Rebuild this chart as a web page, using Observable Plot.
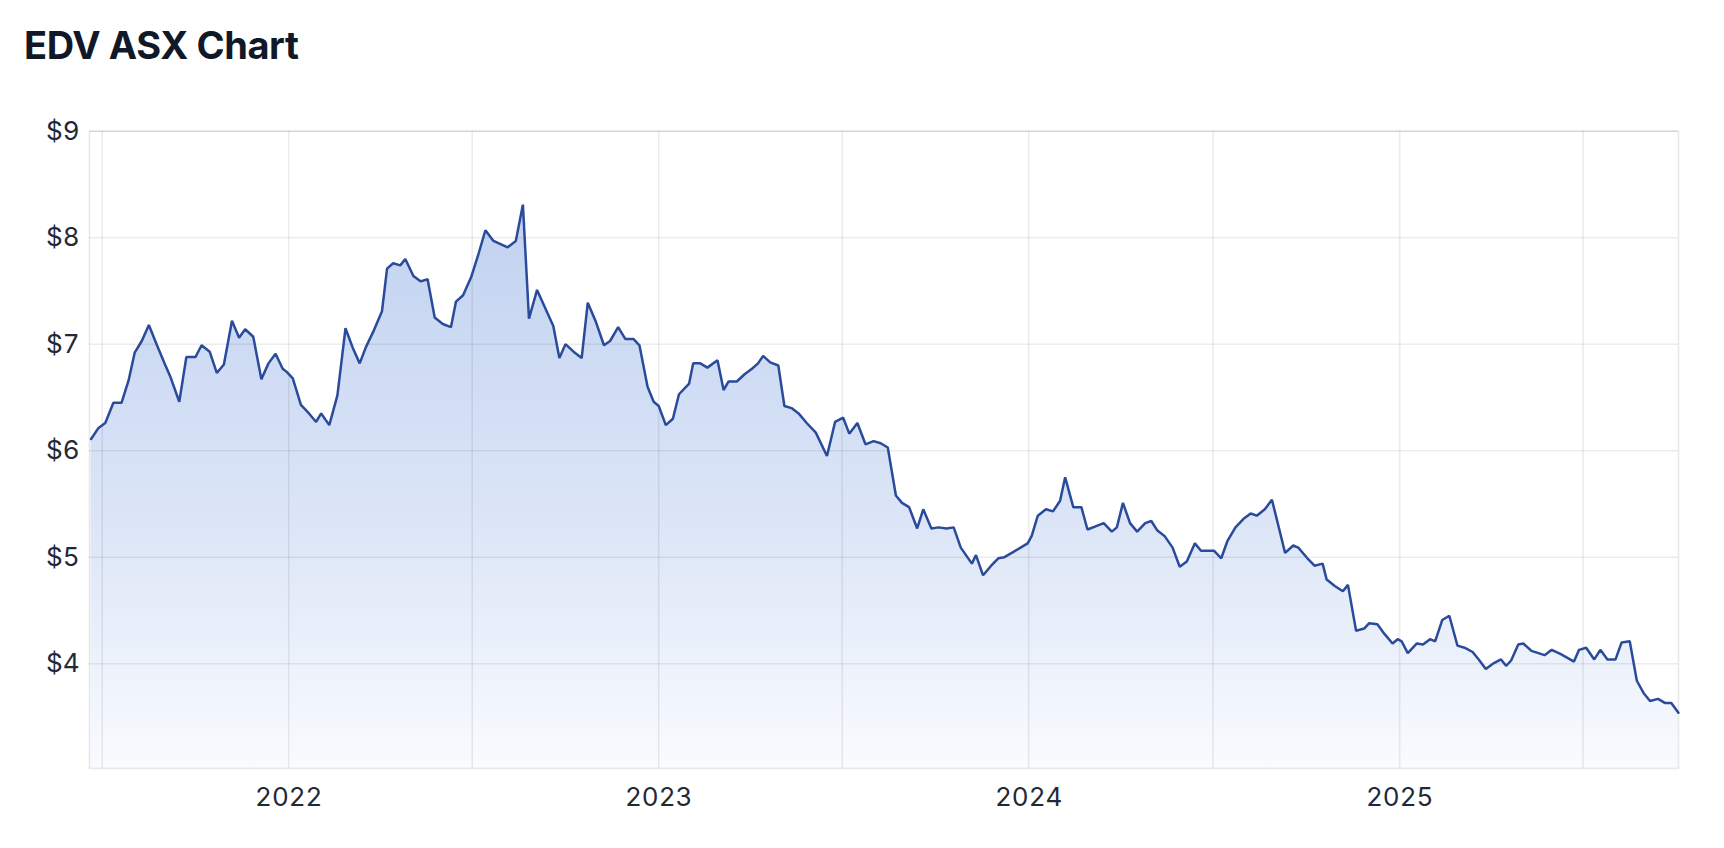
<!DOCTYPE html>
<html>
<head>
<meta charset="utf-8">
<script src="https://cdn.jsdelivr.net/npm/d3@7"></script>
<script src="https://cdn.jsdelivr.net/npm/@observablehq/plot@0.6"></script>
<style>
  html, body { margin: 0; padding: 0; background: #ffffff; }
  body { width: 1724px; height: 848px; position: relative; overflow: hidden; font-family: Inter, "Noto Sans", sans-serif; }
  #title { position: absolute; left: 24px; top: 26px; font-size: 38px; line-height: 38px; font-weight: 700; letter-spacing: -0.4px; color: #111827; white-space: nowrap; }
  #chart { position: absolute; left: 0; top: 80px; }
</style>
</head>
<body>
<div id="title">EDV ASX Chart</div>
<div id="chart"></div>
<script>
// ---- Data ----
const dates2021 = ["2021-06-20","2021-06-27","2021-07-04","2021-07-12","2021-07-20","2021-07-27","2021-08-02","2021-08-09","2021-08-16","2021-08-24","2021-08-31","2021-09-06","2021-09-15","2021-09-22","2021-10-01","2021-10-07","2021-10-15","2021-10-22","2021-10-29","2021-11-06","2021-11-13","2021-11-19","2021-11-27","2021-12-05","2021-12-12","2021-12-19","2021-12-26","2021-12-30"];
const prices2021 = [6.11,6.21,6.26,6.45,6.45,6.66,6.92,7.03,7.18,6.99,6.83,6.70,6.46,6.88,6.88,6.99,6.93,6.73,6.81,7.22,7.06,7.14,7.07,6.67,6.82,6.91,6.77,6.74];

const dates2022 = ["2022-01-05","2022-01-13","2022-01-21","2022-01-28","2022-02-02","2022-02-10","2022-02-18","2022-02-26","2022-03-05","2022-03-12","2022-03-18","2022-03-26","2022-04-03","2022-04-08","2022-04-14","2022-04-21","2022-04-26","2022-05-04","2022-05-11","2022-05-18","2022-05-25","2022-06-02","2022-06-10","2022-06-15","2022-06-22","2022-06-30","2022-07-07","2022-07-14","2022-07-22","2022-07-29","2022-08-05","2022-08-13","2022-08-20","2022-08-26","2022-09-03","2022-09-11","2022-09-19","2022-09-25","2022-10-01","2022-10-09","2022-10-17","2022-10-23","2022-10-31","2022-11-08","2022-11-14","2022-11-22","2022-11-29","2022-12-07","2022-12-13","2022-12-21","2022-12-27"];
const prices2022 = [6.68,6.43,6.35,6.27,6.35,6.24,6.52,7.15,6.97,6.82,6.97,7.13,7.31,7.71,7.76,7.74,7.80,7.64,7.59,7.61,7.25,7.19,7.16,7.40,7.46,7.63,7.84,8.07,7.97,7.94,7.91,7.97,8.31,7.24,7.51,7.34,7.17,6.87,7.00,6.93,6.87,7.39,7.21,6.99,7.03,7.16,7.05,7.05,6.99,6.60,6.46];

const dates2023 = ["2023-01-01","2023-01-08","2023-01-15","2023-01-21","2023-01-31","2023-02-04","2023-02-11","2023-02-18","2023-02-28","2023-03-06","2023-03-11","2023-03-19","2023-03-27","2023-04-03","2023-04-09","2023-04-14","2023-04-21","2023-04-29","2023-05-05","2023-05-12","2023-05-19","2023-05-27","2023-06-05","2023-06-16","2023-06-24","2023-07-02","2023-07-08","2023-07-16","2023-07-24","2023-08-01","2023-08-08","2023-08-15","2023-08-23","2023-08-29","2023-09-05","2023-09-13","2023-09-19","2023-09-27","2023-10-04","2023-10-12","2023-10-19","2023-10-26","2023-11-06","2023-11-10","2023-11-17","2023-11-25","2023-12-02","2023-12-08","2023-12-17","2023-12-24","2023-12-31"];
const prices2023 = [6.42,6.24,6.30,6.53,6.63,6.82,6.82,6.78,6.85,6.57,6.65,6.65,6.72,6.77,6.82,6.89,6.83,6.80,6.42,6.40,6.35,6.26,6.17,5.95,6.27,6.31,6.16,6.26,6.06,6.09,6.07,6.03,5.58,5.51,5.47,5.27,5.45,5.27,5.28,5.27,5.28,5.09,4.94,5.02,4.83,4.92,4.99,5.00,5.05,5.09,5.13];

const dates2024 = ["2024-01-04","2024-01-10","2024-01-18","2024-01-25","2024-02-01","2024-02-06","2024-02-14","2024-02-22","2024-02-28","2024-03-07","2024-03-15","2024-03-23","2024-03-28","2024-04-03","2024-04-10","2024-04-17","2024-04-25","2024-05-01","2024-05-07","2024-05-14","2024-05-22","2024-05-29","2024-06-05","2024-06-13","2024-06-19","2024-06-26","2024-07-02","2024-07-09","2024-07-15","2024-07-23","2024-07-31","2024-08-07","2024-08-13","2024-08-21","2024-08-28","2024-09-10","2024-09-18","2024-09-23","2024-10-02","2024-10-09","2024-10-17","2024-10-21","2024-10-29","2024-11-06","2024-11-11","2024-11-19","2024-11-27","2024-12-02","2024-12-10","2024-12-17","2024-12-25","2024-12-30"];
const prices2024 = [5.20,5.39,5.45,5.43,5.53,5.75,5.47,5.47,5.26,5.29,5.32,5.24,5.28,5.51,5.32,5.24,5.32,5.34,5.25,5.20,5.09,4.91,4.96,5.13,5.06,5.06,5.06,4.99,5.15,5.28,5.36,5.41,5.39,5.45,5.54,5.04,5.11,5.09,4.99,4.92,4.94,4.79,4.73,4.68,4.74,4.31,4.33,4.38,4.37,4.28,4.19,4.23];

const dates2025 = ["2025-01-03","2025-01-09","2025-01-18","2025-01-24","2025-01-31","2025-02-05","2025-02-12","2025-02-19","2025-02-27","2025-03-06","2025-03-14","2025-03-20","2025-03-27","2025-04-03","2025-04-11","2025-04-16","2025-04-21","2025-04-28","2025-05-03","2025-05-11","2025-05-24","2025-05-31","2025-06-09","2025-06-22","2025-06-27","2025-07-04","2025-07-12","2025-07-18","2025-07-25","2025-08-02","2025-08-08","2025-08-16","2025-08-23","2025-08-30","2025-09-05","2025-09-13","2025-09-20","2025-09-26","2025-10-03"];
const prices2025 = [4.21,4.10,4.19,4.18,4.23,4.21,4.41,4.45,4.17,4.15,4.11,4.04,3.95,4.00,4.04,3.98,4.03,4.18,4.19,4.12,4.08,4.13,4.09,4.02,4.13,4.15,4.04,4.13,4.04,4.04,4.20,4.21,3.84,3.72,3.65,3.67,3.63,3.63,3.54];

const yTicks = [4, 5, 6, 7, 8, 9];
const xTickLabels = ["2022", "2023", "2024", "2025"];
const chartTitle = "EDV ASX Chart";

// ---- Build table ----
const allDates = [...dates2021, ...dates2022, ...dates2023, ...dates2024, ...dates2025];
const allPrices = [...prices2021, ...prices2022, ...prices2023, ...prices2024, ...prices2025];
const data = allDates.map((d, i) => ({ date: new Date(d + "T00:00:00Z"), price: allPrices[i] }));

document.getElementById("title").textContent = chartTitle;

const yMin = 3.016, yMax = 9;
const lineColor = "#2a4b9b";

const gradientDefs = () => {
  const ns = "http://www.w3.org/2000/svg";
  const defs = document.createElementNS(ns, "defs");
  const lg = document.createElementNS(ns, "linearGradient");
  lg.setAttribute("id", "edvFill");
  lg.setAttribute("x1", "0"); lg.setAttribute("x2", "0");
  lg.setAttribute("y1", "0"); lg.setAttribute("y2", "1");
  [["0%", "#c1d2f0"], ["55%", "#dbe5f7"], ["100%", "#f9fbfe"]].forEach(([o, c]) => {
    const s = document.createElementNS(ns, "stop");
    s.setAttribute("offset", o);
    s.setAttribute("stop-color", c);
    lg.appendChild(s);
  });
  defs.appendChild(lg);
  return defs;
};

const chart = Plot.plot({
  width: 1724,
  height: 768,
  marginLeft: 89,
  marginRight: 46,
  marginTop: 50.7,
  marginBottom: 80,
  style: { fontFamily: "Inter, 'Noto Sans', sans-serif", fontSize: "26px", color: "#1f2937", background: "transparent", overflow: "visible" },
  x: { type: "utc", domain: [new Date("2021-06-18T10:20:00Z"), new Date("2025-10-03T02:30:00Z")] },
  y: { domain: [yMin, yMax] },
  marks: [
    gradientDefs,
    Plot.areaY(data, { x: "date", y1: yMin, y2: "price", fill: "url(#edvFill)" }),
    Plot.gridX({ ticks: d3.utcMonth.every(6), stroke: "#000", strokeOpacity: 0.075, strokeWidth: 1.6 }),
    Plot.gridY({ ticks: yTicks, stroke: "#000", strokeOpacity: 0.075, strokeWidth: 1.6 }),
    Plot.lineY(data, { x: "date", y: "price", stroke: lineColor, strokeWidth: 2.5, strokeLinejoin: "miter" }),
    Plot.frame({ stroke: "#000", strokeOpacity: 0.09, strokeWidth: 1.6 }),
    Plot.axisY({ ticks: yTicks, tickFormat: d => "$" + d, tickSize: 0, tickPadding: 10, label: null, fontSize: 26, fill: "#1f2937" }),
    Plot.axisX({ ticks: xTickLabels.map(y => new Date(y + "-01-01T00:00:00Z")), tickFormat: d => String(d.getUTCFullYear()), tickSize: 0, tickPadding: 19, label: null, fontSize: 26, fill: "#1f2937" })
  ]
});
document.getElementById("chart").appendChild(chart);
</script>
</body>
</html>
